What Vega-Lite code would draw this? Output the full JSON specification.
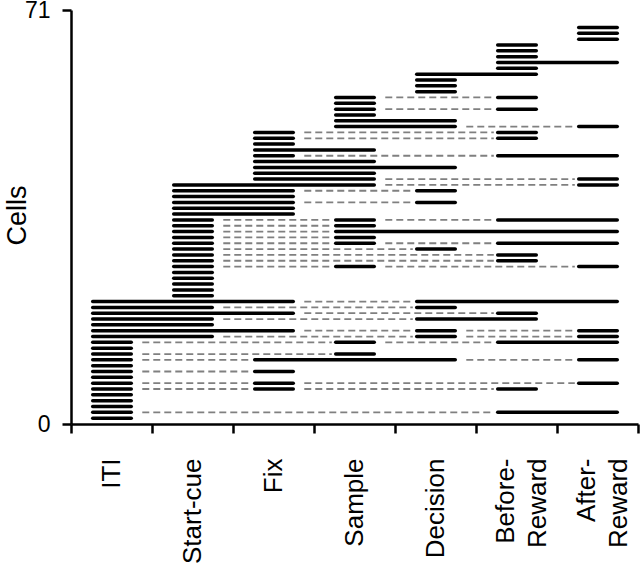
{
  "$schema": "https://vega.github.io/schema/vega-lite/v6.json",
  "width": 567,
  "height": 414,
  "autosize": "none",
  "padding": {"left": 71, "top": 10, "right": 2, "bottom": 146},
  "background": "white",
  "config": {"view": {"stroke": null}, "font": "Liberation Sans"},
  "data": {"values": [
    {"row": 1, "s": 0, "e": 0},
    {"row": 2, "s": 0, "e": 0}, {"row": 2, "s": 5, "e": 6},
    {"row": 3, "s": 0, "e": 0},
    {"row": 4, "s": 0, "e": 0},
    {"row": 5, "s": 0, "e": 0},
    {"row": 6, "s": 0, "e": 0}, {"row": 6, "s": 2, "e": 2}, {"row": 6, "s": 5, "e": 5},
    {"row": 7, "s": 0, "e": 0}, {"row": 7, "s": 2, "e": 2}, {"row": 7, "s": 6, "e": 6},
    {"row": 8, "s": 0, "e": 0},
    {"row": 9, "s": 0, "e": 0}, {"row": 9, "s": 2, "e": 2},
    {"row": 10, "s": 0, "e": 0},
    {"row": 11, "s": 0, "e": 0}, {"row": 11, "s": 2, "e": 4}, {"row": 11, "s": 6, "e": 6},
    {"row": 12, "s": 0, "e": 0}, {"row": 12, "s": 3, "e": 3},
    {"row": 13, "s": 0, "e": 0},
    {"row": 14, "s": 0, "e": 0}, {"row": 14, "s": 3, "e": 3}, {"row": 14, "s": 5, "e": 6},
    {"row": 15, "s": 0, "e": 1}, {"row": 15, "s": 4, "e": 4}, {"row": 15, "s": 6, "e": 6},
    {"row": 16, "s": 0, "e": 2}, {"row": 16, "s": 4, "e": 4}, {"row": 16, "s": 6, "e": 6},
    {"row": 17, "s": 0, "e": 1},
    {"row": 18, "s": 0, "e": 1}, {"row": 18, "s": 4, "e": 5},
    {"row": 19, "s": 0, "e": 2}, {"row": 19, "s": 5, "e": 5},
    {"row": 20, "s": 0, "e": 1}, {"row": 20, "s": 4, "e": 4},
    {"row": 21, "s": 0, "e": 2}, {"row": 21, "s": 4, "e": 6},
    {"row": 22, "s": 1, "e": 1},
    {"row": 23, "s": 1, "e": 1},
    {"row": 24, "s": 1, "e": 1},
    {"row": 25, "s": 1, "e": 1},
    {"row": 26, "s": 1, "e": 1},
    {"row": 27, "s": 1, "e": 1}, {"row": 27, "s": 3, "e": 3}, {"row": 27, "s": 6, "e": 6},
    {"row": 28, "s": 1, "e": 1}, {"row": 28, "s": 5, "e": 5},
    {"row": 29, "s": 1, "e": 1}, {"row": 29, "s": 5, "e": 5},
    {"row": 30, "s": 1, "e": 1}, {"row": 30, "s": 4, "e": 4},
    {"row": 31, "s": 1, "e": 1}, {"row": 31, "s": 3, "e": 3}, {"row": 31, "s": 5, "e": 6},
    {"row": 32, "s": 1, "e": 1}, {"row": 32, "s": 3, "e": 3},
    {"row": 33, "s": 1, "e": 1}, {"row": 33, "s": 3, "e": 6},
    {"row": 34, "s": 1, "e": 1}, {"row": 34, "s": 3, "e": 3},
    {"row": 35, "s": 1, "e": 1}, {"row": 35, "s": 3, "e": 3}, {"row": 35, "s": 5, "e": 6},
    {"row": 36, "s": 1, "e": 2},
    {"row": 37, "s": 1, "e": 2},
    {"row": 38, "s": 1, "e": 2}, {"row": 38, "s": 4, "e": 4},
    {"row": 39, "s": 1, "e": 2},
    {"row": 40, "s": 1, "e": 2}, {"row": 40, "s": 4, "e": 4},
    {"row": 41, "s": 1, "e": 3}, {"row": 41, "s": 6, "e": 6},
    {"row": 42, "s": 2, "e": 3}, {"row": 42, "s": 6, "e": 6},
    {"row": 43, "s": 2, "e": 3},
    {"row": 44, "s": 2, "e": 4},
    {"row": 45, "s": 2, "e": 3},
    {"row": 46, "s": 2, "e": 2}, {"row": 46, "s": 5, "e": 6},
    {"row": 47, "s": 2, "e": 3},
    {"row": 48, "s": 2, "e": 2},
    {"row": 49, "s": 2, "e": 2}, {"row": 49, "s": 5, "e": 5},
    {"row": 50, "s": 2, "e": 2}, {"row": 50, "s": 5, "e": 5},
    {"row": 51, "s": 3, "e": 4}, {"row": 51, "s": 6, "e": 6},
    {"row": 52, "s": 3, "e": 4},
    {"row": 53, "s": 3, "e": 3},
    {"row": 54, "s": 3, "e": 3}, {"row": 54, "s": 5, "e": 5},
    {"row": 55, "s": 3, "e": 3},
    {"row": 56, "s": 3, "e": 3}, {"row": 56, "s": 5, "e": 5},
    {"row": 57, "s": 4, "e": 4},
    {"row": 58, "s": 4, "e": 4},
    {"row": 59, "s": 4, "e": 4},
    {"row": 60, "s": 4, "e": 5},
    {"row": 61, "s": 5, "e": 5},
    {"row": 62, "s": 5, "e": 6},
    {"row": 63, "s": 5, "e": 5},
    {"row": 64, "s": 5, "e": 5},
    {"row": 65, "s": 5, "e": 5},
    {"row": 66, "s": 6, "e": 6},
    {"row": 67, "s": 6, "e": 6},
    {"row": 68, "s": 6, "e": 6}
  ]},
  "encoding": {
    "x": {
      "field": "x1", "type": "quantitative",
      "scale": {"domain": [0, 7], "nice": false, "zero": false},
      "axis": {
        "values": [0, 0.5, 1, 1.5, 2, 2.5, 3, 3.5, 4, 4.5, 5, 5.36, 6, 6.37, 7],
        "title": null, "grid": false,
        "domainColor": "black", "domainWidth": 2.5,
        "tickColor": "black", "tickWidth": 2.5, "tickSize": 9,
        "tickOpacity": {"condition": {"test": "datum.value % 1 !== 0", "value": 0}, "value": 1},
        "labelExpr": "datum.value === 0.5 ? 'ITI' : datum.value === 1.5 ? 'Start-cue' : datum.value === 2.5 ? 'Fix' : datum.value === 3.5 ? 'Sample' : datum.value === 4.5 ? 'Decision' : datum.value === 5.36 ? ['Before-', 'Reward'] : datum.value === 6.37 ? ['After-', 'Reward'] : ''",
        "labelAngle": 270, "labelAlign": "right", "labelBaseline": "middle",
        "labelFontSize": 26, "labelColor": "black", "labelPadding": 25,
        "labelOverlap": false, "labelFlush": false, "labelBound": false,
        "labelLineHeight": 32
      }
    },
    "x2": {"field": "x2"},
    "y": {
      "field": "row", "type": "quantitative",
      "scale": {"domain": [0, 71], "nice": false, "zero": false},
      "axis": {
        "values": [0, 71],
        "title": "Cells", "titleFontSize": 27, "titleFontWeight": "normal", "titleColor": "black",
        "titleX": -54, "titleY": 205, "titleAngle": 270, "titleAlign": "center", "titleBaseline": "middle",
        "grid": false,
        "domainColor": "black", "domainWidth": 2.5,
        "tickColor": "black", "tickWidth": 2.5, "tickSize": 9,
        "labelFontSize": 23, "labelColor": "black", "labelPadding": 12,
        "labelFlush": false, "labelOverlap": false, "labelBound": false
      }
    }
  },
  "layer": [
    {
      "transform": [
        {"window": [{"op": "lag", "field": "e", "as": "pe"}], "groupby": ["row"], "sort": [{"field": "s", "order": "ascending"}]},
        {"filter": "isValid(datum.pe)"},
        {"calculate": "datum.pe + 0.88", "as": "x1"},
        {"calculate": "datum.s + 0.22", "as": "x2"}
      ],
      "mark": {"type": "rule", "stroke": "#808080", "strokeWidth": 1.8, "strokeDash": [7, 4]}
    },
    {
      "transform": [
        {"calculate": "datum.s + 0.268", "as": "x1"},
        {"calculate": "datum.e + 0.744", "as": "x2"}
      ],
      "mark": {"type": "rule", "stroke": "black", "strokeWidth": 3.5, "strokeCap": "round"}
    }
  ]
}
